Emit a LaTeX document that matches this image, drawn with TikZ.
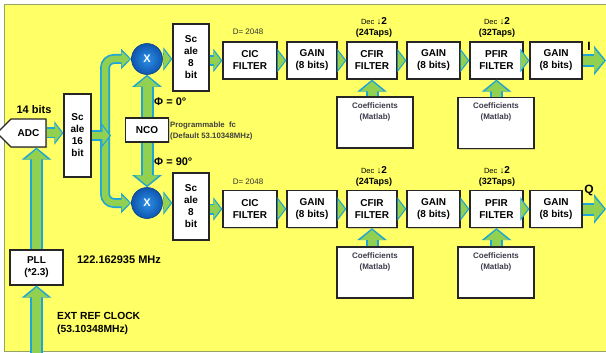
\documentclass[tikz,border=0pt]{standalone}
\usepackage{fontspec}
\setmainfont{Liberation Sans}
\usetikzlibrary{arrows.meta}
\usetikzlibrary{positioning}
\usetikzlibrary{shapes.symbols,shadows}

\definecolor{bgyellow}{RGB}{255,255,102}
\definecolor{frameline}{RGB}{150,165,100}
\definecolor{arrowfill}{RGB}{146,208,80}
\definecolor{arrowline}{RGB}{30,165,215}
\definecolor{mixlight}{RGB}{45,145,230}
\definecolor{mixdark}{RGB}{15,85,175}
\definecolor{softtext}{RGB}{60,60,75}

\tikzset{
  blk/.style={rectangle, draw=black!85, line width=1.2pt, fill=white, align=center, inner sep=1pt,
    font=\bfseries\fontsize{10}{12}\selectfont,
    drop shadow={shadow xshift=1.2pt, shadow yshift=-1.2pt, opacity=0.35}},
  filt/.style={blk, minimum width=#1, minimum height=37pt},
  filt/.default=52pt,
  scalebox/.style={blk, minimum width=36pt, minimum height=67pt},
  coefbox/.style={blk, minimum width=76pt, minimum height=51pt},
  coeftxt/.style={align=center, inner sep=0pt, text=softtext, font=\bfseries\fontsize{8}{11}\selectfont},
  mix/.style={circle, minimum size=31pt, inner sep=0pt, inner color=mixlight, outer color=mixdark,
    draw=mixdark!80!black, line width=0.6pt, text=white, font=\bfseries\fontsize{11}{11}\selectfont},
  lbl/.style={inner sep=0pt, font=\bfseries\fontsize{11}{13}\selectfont},
  note/.style={inner sep=0pt, align=left, text=black!75, font=\bfseries\fontsize{7.8}{11}\selectfont},
  dec/.style={inner sep=0pt, align=center, font=\bfseries\fontsize{9}{11}\selectfont},
  rowarrow/.style={draw=arrowfill, line width=7.5pt, -{Triangle[length=7pt,width=18pt]}, shorten >=1.6pt,
    preaction={draw=arrowline, line width=11pt, -{Triangle[length=9pt,width=23pt]}, shorten >=0pt}},
  bigarrow/.style={draw=arrowfill, line width=9pt, -{Triangle[length=10pt,width=23pt]}, shorten >=1.8pt,
    preaction={draw=arrowline, line width=13pt, -{Triangle[length=12pt,width=29pt]}, shorten >=0pt}},
  busarrow/.style={draw=arrowfill, line width=6.5pt, -{Triangle[length=8pt,width=15pt]}, shorten >=1.6pt,
    preaction={draw=arrowline, line width=10pt, -{Triangle[length=10pt,width=20pt]}, shorten >=0pt}},
}

\newcommand{\declbl}[1]{{\mdseries\fontsize{7.5}{9}\selectfont Dec} {\mdseries\fontsize{9}{9}\selectfont ↓}{\fontsize{10}{10}\selectfont 2}\\(#1)}

\begin{document}
\begin{tikzpicture}[x=1pt, y=-1pt]

  \useasboundingbox (0,0) rectangle (606,353);
  \fill[white] (0,0) rectangle (606,353);
  \draw[frameline, line width=1.5pt, fill=bgyellow] (4.5,4.5) rectangle (614,351.5);

  % front end
  \node[blk, signal, signal to=west, signal pointer angle=90, minimum width=49pt, minimum height=28pt] (adc) at (28.5,133) {ADC};
  \node[blk, minimum width=27pt, minimum height=83pt] (scaleA) at (77.5,135.5) {Sc\\ale\\16\\bit};
  \node[blk, minimum width=53pt, minimum height=35pt] (pll) at (36.5,267.5) {PLL\\(*2.3)};
  \node[blk, minimum width=43pt, minimum height=24pt] (nco) at (147,130) {NCO};
  \node[mix] (mixI) at (147,59) {X};
  \node[mix] (mixQ) at (147,203) {X};
  \node[scalebox] (scaleI) at (191,57.5) {Sc\\ale\\8\\bit};
  \node[scalebox] (scaleQ) at (191,206.5) {Sc\\ale\\8\\bit};

  % I path
  \node[filt=54pt] (cicI)   at (250,60.5)   {CIC\\FILTER};
  \node[filt=50pt] (gainAI) at (312,60.5)   {GAIN\\(8 bits)};
  \node[filt=50pt] (cfirI)  at (372,60.5)   {CFIR\\FILTER};
  \node[filt=53pt] (gainBI) at (433.5,60.5) {GAIN\\(8 bits)};
  \node[filt=53pt] (pfirI)  at (496.5,60.5) {PFIR\\FILTER};
  \node[filt=52pt] (gainCI) at (556,60.5)   {GAIN\\(8 bits)};
  \node[coefbox] (coefCI) at (375,122.5) {};
  \node[coefbox] (coefPI) at (496,123)   {};
  \node[coeftxt, below=6pt of coefCI.north] (coefCItxt) {Coefficients\\(Matlab)};
  \node[coeftxt, below=6pt of coefPI.north] (coefPItxt) {Coefficients\\(Matlab)};

  % Q path
  \node[filt=54pt] (cicQ)   at (250,209)   {CIC\\FILTER};
  \node[filt=50pt] (gainAQ) at (312,209)   {GAIN\\(8 bits)};
  \node[filt=50pt] (cfirQ)  at (372,209)   {CFIR\\FILTER};
  \node[filt=53pt] (gainBQ) at (433.5,209) {GAIN\\(8 bits)};
  \node[filt=53pt] (pfirQ)  at (496.5,209) {PFIR\\FILTER};
  \node[filt=52pt] (gainCQ) at (556,209)   {GAIN\\(8 bits)};
  \node[coefbox] (coefCQ) at (375,272.5) {};
  \node[coefbox] (coefPQ) at (496,272.5) {};
  \node[coeftxt, below=6pt of coefCQ.north] (coefCQtxt) {Coefficients\\(Matlab)};
  \node[coeftxt, below=6pt of coefPQ.north] (coefPQtxt) {Coefficients\\(Matlab)};

  % labels
  \node[lbl] (bits) at (34,110) {14 bits};
  \node[lbl, anchor=west] (phiI) at (154,102) {Φ = 0°};
  \node[lbl, anchor=west] (phiQ) at (154,162) {Φ = 90°};
  \node[note, anchor=west] (ncofc) at (170,130.5) {Programmable\ \ fc\\(Default 53.10348MHz)};
  \node[lbl] (pllout) at (119,260) {122.162935 MHz};
  \node[lbl, anchor=west, align=left, font=\bfseries\fontsize{10.3}{13}\selectfont] (extref) at (57,323.5) {EXT REF CLOCK\\(53.10348MHz)};
  \node[inner sep=0pt, text=black!80, font=\fontsize{8}{9}\selectfont] (dI) at (248,32) {D= 2048};
  \node[inner sep=0pt, text=black!80, font=\fontsize{8}{9}\selectfont] (dQ) at (248,182) {D= 2048};
  \node[dec] (decCI) at (374,27) {\declbl{24Taps}};
  \node[dec] (decPI) at (497,27) {\declbl{32Taps}};
  \node[dec] (decCQ) at (374,176.5) {\declbl{24Taps}};
  \node[dec] (decPQ) at (497,176.5) {\declbl{32Taps}};
  \node[lbl, font=\bfseries\fontsize{12}{12}\selectfont] (labI) at (589,46) {I};
  \node[lbl, font=\bfseries\fontsize{12}{12}\selectfont] (labQ) at (589,190) {Q};

  % clock and front end arrows
  \coordinate (refin) at (36.5,360);
  \draw[bigarrow] (refin) -- (pll.south);
  \draw[bigarrow] (pll.north) -- (pll.north |- adc.south);
  \draw[rowarrow] (adc.east) -- (adc.east -| scaleA.west);
  \coordinate (bus) at (105,135.5);
  \draw[busarrow, rounded corners=9pt] (bus) |- (mixI);
  \draw[busarrow, rounded corners=9pt] (bus) |- (mixQ);
  \draw[rowarrow] (scaleA.east) -- ([xshift=6pt]bus);
  \draw[bigarrow] (nco.north) -- (mixI.south);
  \draw[bigarrow] (nco.south) -- (mixQ.north);

  % I chain
  \draw[rowarrow] (mixI.east) -- (mixI.east -| scaleI.west);
  \draw[rowarrow] (scaleI.east |- cicI.west) -- (cicI.west);
  \draw[rowarrow] (cicI) -- (gainAI);
  \draw[rowarrow] (gainAI) -- (cfirI);
  \draw[rowarrow] (cfirI) -- (gainBI);
  \draw[rowarrow] (gainBI) -- (pfirI);
  \draw[rowarrow] (pfirI) -- (gainCI);
  \coordinate (outI) at (606,60.5);
  \draw[bigarrow] (gainCI) -- (outI);
  \draw[bigarrow] (coefCI.north -| cfirI) -- (cfirI.south);
  \draw[bigarrow] (coefPI.north -| pfirI) -- (pfirI.south);

  % Q chain
  \draw[rowarrow] (mixQ.east) -- (mixQ.east -| scaleQ.west);
  \draw[rowarrow] (scaleQ.east |- cicQ.west) -- (cicQ.west);
  \draw[rowarrow] (cicQ) -- (gainAQ);
  \draw[rowarrow] (gainAQ) -- (cfirQ);
  \draw[rowarrow] (cfirQ) -- (gainBQ);
  \draw[rowarrow] (gainBQ) -- (pfirQ);
  \draw[rowarrow] (pfirQ) -- (gainCQ);
  \coordinate (outQ) at (606,209);
  \draw[bigarrow] (gainCQ) -- (outQ);
  \draw[bigarrow] (coefCQ.north -| cfirQ) -- (cfirQ.south);
  \draw[bigarrow] (coefPQ.north -| pfirQ) -- (pfirQ.south);

\end{tikzpicture}
\end{document}
